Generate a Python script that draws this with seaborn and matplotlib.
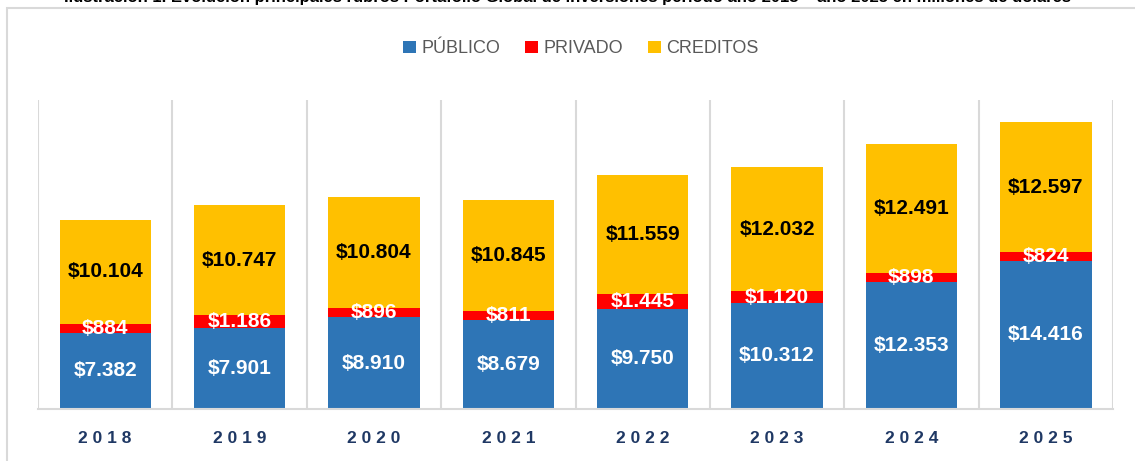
import pandas as pd
import matplotlib.pyplot as plt
import matplotlib.patches as patches
import seaborn as sns

# --- Data (millones de dólares) ---
years = ['2018', '2019', '2020', '2021', '2022', '2023', '2024', '2025']
publico = [7382, 7901, 8910, 8679, 9750, 10312, 12353, 14416]
privado = [884, 1186, 896, 811, 1445, 1120, 898, 824]
creditos = [10104, 10747, 10804, 10845, 11559, 12032, 12491, 12597]

series_names = ['PÚBLICO', 'PRIVADO', 'CREDITOS']
series_colors = ['#2E75B6', '#FF0000', '#FFC000']

df = pd.DataFrame({'year': years, 'PÚBLICO': publico,
                   'PRIVADO': privado, 'CREDITOS': creditos})

sns.set_style("white")
plt.rcParams['font.family'] = ['Liberation Sans Narrow', 'Liberation Sans', 'DejaVu Sans']

fig = plt.figure(figsize=(11.35, 4.61), dpi=100)
ax = fig.add_axes([38 / 1135, 1 - 409 / 461, (1113 - 38) / 1135, 309 / 461])

# outer frame of the chart object
fig.add_artist(patches.Rectangle((7 / 1135, -0.05), 1.1, 1 - 8 / 461 + 0.05,
                                 transform=fig.transFigure, facecolor='none',
                                 edgecolor='#d9d9d9', linewidth=1.5))

# caption, cut off at the top edge as in the source image
fig.text(0.5, 1 - 2 / 461,
         'Ilustración 1. Evolución principales rubros Portafolio Global de inversiones '
         'periodo año 2018 – año 2025 en millones de dólares',
         ha='center', va='baseline', fontsize=12, fontweight='bold', color='black')

bottom = [0] * len(years)
for name, color in zip(series_names, series_colors):
    sns.barplot(data=df, x='year', y=name, color=color, bottom=bottom,
                width=0.68, saturation=1, ax=ax, label=name, linewidth=0)
    vals = df[name].tolist()
    txt_color = 'black' if name == 'CREDITOS' else 'white'
    for i, v in enumerate(vals):
        ax.text(i, bottom[i] + v / 2, '$' + f'{v:,}'.replace(',', '.'),
                ha='center', va='center', fontsize=15, fontweight='bold',
                color=txt_color)
    bottom = [b + v for b, v in zip(bottom, vals)]

ax.set_ylim(0, 30000)
ax.set_xlim(-0.5, len(years) - 0.5)
ax.set_yticks([])
ax.set_xlabel('')
ax.set_ylabel('')

# category separators
for b in range(len(years) + 1):
    ax.axvline(b - 0.5, color='#d9d9d9', linewidth=1.5, zorder=0)

for side in ['top', 'right', 'left']:
    ax.spines[side].set_visible(False)
ax.spines['bottom'].set_color('#d9d9d9')
ax.spines['bottom'].set_linewidth(1.5)

ax.set_xticks(range(len(years)))
ax.set_xticklabels([' '.join(y) for y in years], fontsize=12.5,
                   fontweight='bold', color='#1F3864')
ax.tick_params(axis='x', length=0, pad=16)

leg = ax.legend(loc='lower center', bbox_to_anchor=(0.505, 1.085), ncol=3,
                frameon=False, fontsize=13, handlelength=0.7, handleheight=0.7,
                handletextpad=0.3, columnspacing=1.4)
for t in leg.get_texts():
    t.set_color('#595959')

plt.savefig('out.png', dpi=100)
plt.close()
